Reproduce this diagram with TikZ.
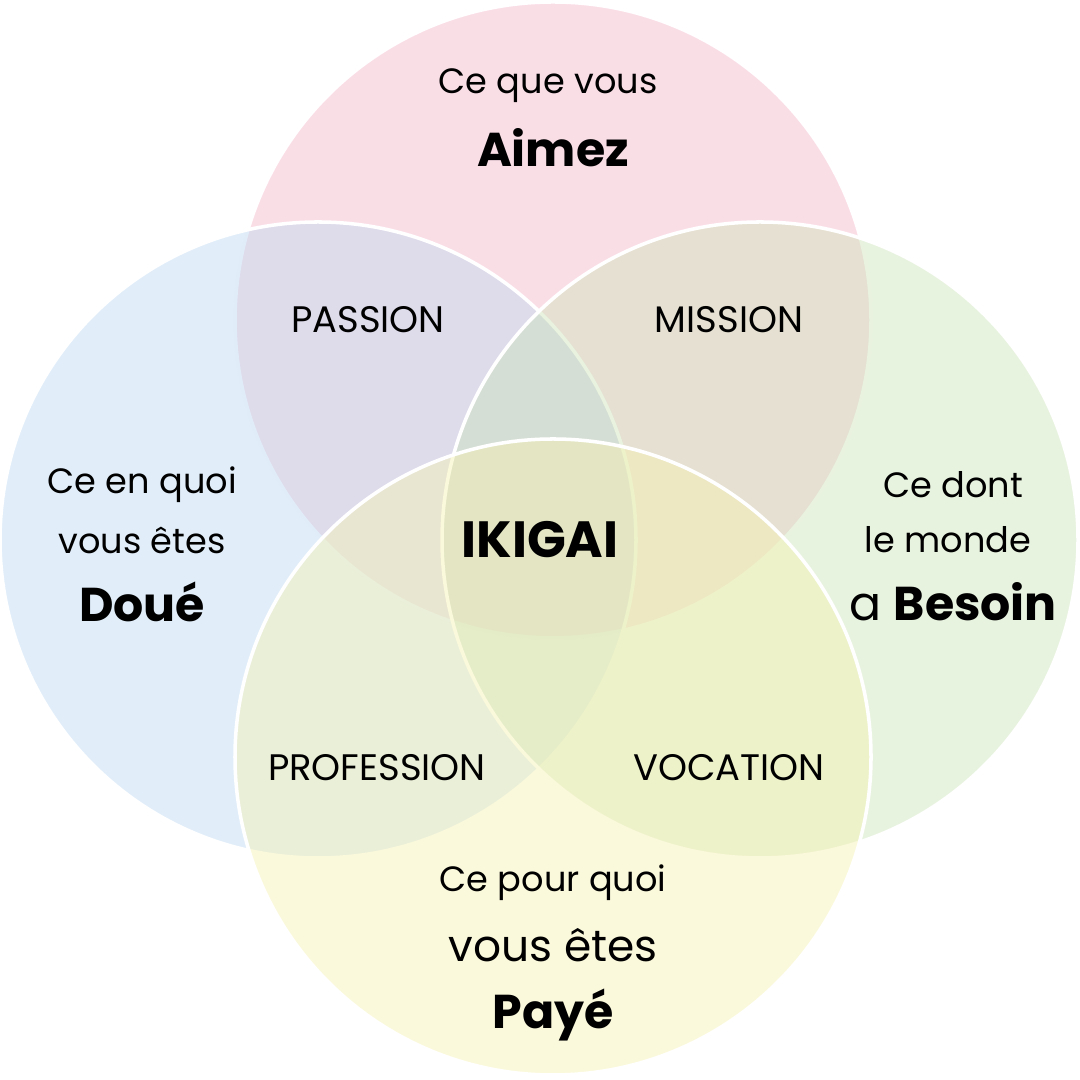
\documentclass[tikz,border=0pt]{standalone}
\usepackage{fontspec}
\setmainfont{Poppins}
\definecolor{pinkc}{HTML}{F5B5C8}
\definecolor{bluec}{HTML}{BCD8F2}
\definecolor{greenc}{HTML}{CCE4B8}
\definecolor{yellowc}{HTML}{F6F2B0}
\tikzset{
  ring/.style={circle, minimum size=6.36cm, draw=white, line width=1pt, fill opacity=0.45, inner sep=0pt},
  small/.style={font=\fontsize{10}{12}\selectfont},
  big/.style={font=\fontsize{13.5}{16}\selectfont\bfseries},
  zone/.style={font=\fontsize{10.5}{12}\selectfont}
}
\begin{document}
\begin{tikzpicture}
  \useasboundingbox (0,0) rectangle (10.8,10.8);
  % circles
  \node[ring, fill=pinkc] (love) at (5.53,7.60) {};
  \node[ring, fill=bluec] (good) at (3.18,5.40) {};
  \node[ring, fill=greenc] (need) at (7.60,5.40) {};
  \node[ring, fill=yellowc] (paid) at (5.53,3.23) {};
  % top
  \node[small] (love1) at (5.48,9.94) {Ce que vous};
  \node[big] (love2) at (5.53,9.32) {Aimez};
  % left
  \node[small] (good1) at (1.42,5.95) {Ce en quoi};
  \node[small] (good2) at (1.42,5.40) {vous êtes};
  \node[big] (good3) at (1.42,4.78) {Doué};
  % right
  \node[small] (need1) at (9.53,5.95) {Ce dont};
  \node[small] (need2) at (9.48,5.40) {le monde};
  \node[font=\fontsize{13.5}{16}\selectfont] (need3) at (9.53,4.78) {a \textbf{Besoin}};
  % bottom
  \node[small] (paid1) at (5.53,1.97) {Ce pour quoi};
  \node[font=\fontsize{12.5}{15}\selectfont] (paid2) at (5.53,1.35) {vous êtes};
  \node[big] (paid3) at (5.53,0.65) {Payé};
  % overlaps
  \node[zone] (passion) at (3.68,7.60) {PASSION};
  \node[zone] (mission) at (7.29,7.60) {MISSION};
  \node[zone] (profession) at (3.77,3.12) {PROFESSION};
  \node[zone] (vocation) at (7.29,3.12) {VOCATION};
  \node[font=\fontsize{14.5}{17}\selectfont\bfseries] (ikigai) at (5.40,5.40) {IKIGAI};
\end{tikzpicture}
\end{document}
